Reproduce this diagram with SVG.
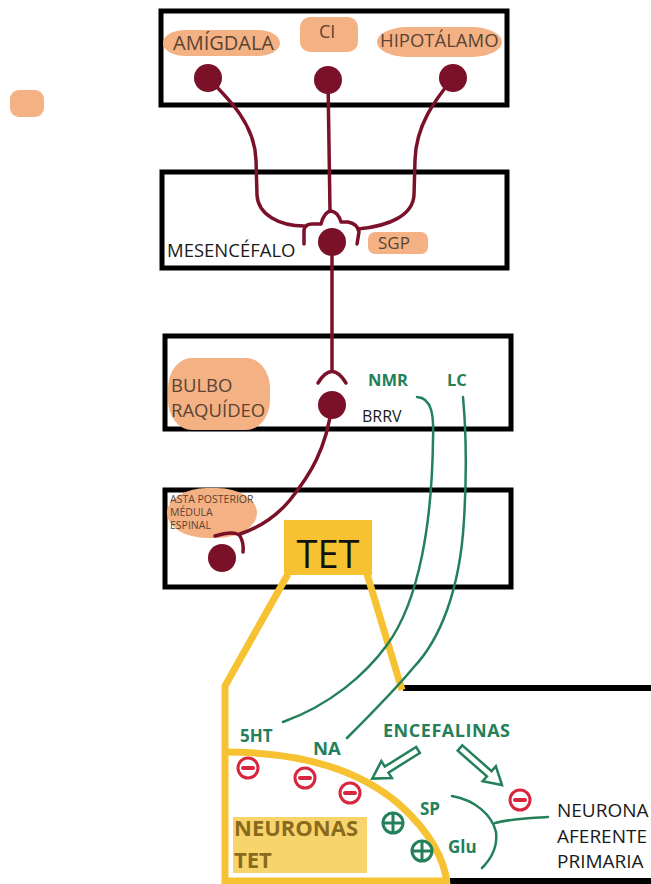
<svg xmlns="http://www.w3.org/2000/svg" width="651" height="884" viewBox="0 0 651 884">
<style>
.box{fill:none;stroke:#000;stroke-width:5}
.peach{fill:#f4b183}
.lbl{font-family:"Open Sans","Liberation Sans",sans-serif;fill:#5a4434}
.blk{font-family:"Open Sans","Liberation Sans",sans-serif;fill:#1a1a1a}
.ax{fill:none;stroke:#7b1128;stroke-width:3.5;stroke-linecap:round;stroke-linejoin:round}
.soma{fill:#7b1128}
.gr{fill:none;stroke:#23805a;stroke-width:2.5;stroke-linecap:round}
.gt{font-family:"Open Sans","Liberation Sans",sans-serif;font-weight:bold;fill:#23805a}
.yl{fill:none;stroke:#f6c232;stroke-width:7;stroke-linejoin:round}
.mc{fill:none;stroke:#d7263d;stroke-width:3}
.pc{fill:none;stroke:#23805a;stroke-width:3}
.harrow{fill:#fff;stroke:#23805a;stroke-width:2.5;stroke-linejoin:miter}
</style>
<defs>
<g id="minus"><circle class="mc" r="10"/><line x1="-5" y1="0" x2="5" y2="0" stroke="#d7263d" stroke-width="4" stroke-linecap="round"/></g>
<g id="plus"><circle class="pc" r="10"/><line x1="-10" y1="0" x2="10" y2="0" stroke="#23805a" stroke-width="3"/><line x1="0" y1="-10" x2="0" y2="10" stroke="#23805a" stroke-width="3"/></g>
</defs>

<rect x="10" y="90" width="34" height="27" rx="9" class="peach"/>

<g id="box-cerebro">
<rect class="box" x="161" y="11" width="346" height="94"/>
<rect class="peach" x="163" y="30" width="117" height="26" rx="22" ry="13"/>
<text class="lbl" x="173" y="50" font-size="20">AMÍGDALA</text>
<rect class="peach" x="300" y="17" width="58" height="35" rx="10"/>
<text class="lbl" x="319" y="38" font-size="18">CI</text>
<rect class="peach" x="377" y="27" width="125" height="30" rx="30" ry="15"/>
<text class="lbl" x="380" y="47" font-size="18.5">HIPOTÁLAMO</text>
<circle class="soma" cx="208" cy="78" r="14"/>
<circle class="soma" cx="328" cy="80" r="14"/>
<circle class="soma" cx="453" cy="78" r="14"/>
</g>

<g id="box-mesencefalo">
<rect class="box" x="162" y="172" width="345" height="96"/>
<text class="blk" x="167" y="257" font-size="18.5">MESENCÉFALO</text>
<rect class="peach" x="368" y="232" width="60" height="22" rx="7"/>
<text class="lbl" x="378" y="249" font-size="17">SGP</text>
<circle class="soma" cx="332" cy="242" r="14"/>
</g>

<g id="box-bulbo">
<rect class="box" x="165" y="336" width="346" height="93"/>
<rect class="peach" x="168" y="358" width="102" height="72" rx="24" ry="30"/>
<text class="lbl" x="171" y="392" font-size="18.5">BULBO</text>
<text class="lbl" x="171" y="417" font-size="18.5">RAQUÍDEO</text>
<circle class="soma" cx="332" cy="405" r="14"/>
<text class="blk" x="362" y="422" font-size="16">BRRV</text>
<text class="gt" x="368" y="386" font-size="16.5">NMR</text>
<text class="gt" x="447" y="386" font-size="16.5">LC</text>
</g>

<g id="box-asta">
<rect class="box" x="165" y="490" width="346" height="97"/>
<rect class="peach" x="167" y="488" width="90" height="50" rx="40" ry="25"/>
<text class="lbl" x="170" y="503" font-size="10.5">ASTA POSTERIOR</text>
<text class="lbl" x="170" y="516" font-size="10.5">MÉDULA</text>
<text class="lbl" x="170" y="529" font-size="10.5">ESPINAL</text>
<circle class="soma" cx="222" cy="558" r="14"/>
</g>

<g id="box-inferior">
<line x1="403" y1="688" x2="651" y2="688" stroke="#000" stroke-width="6"/>
<line x1="450" y1="881" x2="651" y2="881" stroke="#000" stroke-width="6"/>
</g>

<g id="tet">
<path class="yl" d="M288,574 L225,686 L225,884"/>
<path class="yl" d="M367,574 L402,690"/>
<path class="yl" d="M225,752 C300,752 360,770 400,805 C430,832 445,860 447,884"/>
<line class="yl" x1="222" y1="881" x2="450" y2="881"/>
<rect x="284" y="520" width="88" height="55" fill="#f6c232"/>
<text x="328" y="568" font-size="38" text-anchor="middle" font-family="Open Sans, Liberation Sans, sans-serif" fill="#111">TET</text>
</g>

<g id="neuronas-tet">
<rect x="233" y="817" width="134" height="56" fill="#f8d46c"/>
<text x="234" y="836" font-size="22" font-weight="bold" font-family="Open Sans, Liberation Sans, sans-serif" fill="#8a6a1c">NEURONAS</text>
<text x="234" y="868" font-size="22" font-weight="bold" font-family="Open Sans, Liberation Sans, sans-serif" fill="#8a6a1c">TET</text>
</g>

<g id="connectors">
<path class="ax" d="M208,78 C230,100 255,125 256,160 L257,195 C258,215 280,226 304,226"/>
<path class="ax" d="M453,78 C435,100 416,125 415,160 L414,195 C413,215 390,226 358,229"/>
<path class="ax" d="M328,80 L330,211"/>
<path class="ax" d="M304,244 L304,230 Q305,224 312,224 L321,224 Q324,212 331,211 Q338,212 341,222 L348,222 Q358,224 359,232 L357,244"/>
<path class="ax" d="M332,242 L332,371"/>
<path class="ax" d="M318,383 Q332,360 346,383"/>
<path class="ax" d="M332,405 C326,450 310,475 290,500 C275,518 258,528 240,534"/>
<path class="ax" d="M215,536 Q235,530 240,536 Q244,543 243,552"/>
<path class="gr" d="M417,397 C432,398 434,415 433,440 C432,520 420,600 387,645 C365,675 330,705 283,722"/>
<path class="gr" d="M463,397 C466,430 467,470 464,520 C460,590 440,640 413,668 C395,690 370,715 347,738"/>
<path class="gr" d="M452,796 C475,800 492,815 496,832 C498,848 490,860 482,868"/>
<path class="gr" d="M495,823 C515,818 530,818 548,817"/>
<polygon class="harrow" transform="translate(418,750) rotate(148)" points="0,-3.5 37,-3.5 37,-10 54,0 37,10 37,3.5 0,3.5"/>
<polygon class="harrow" transform="translate(460,748) rotate(41.4)" points="0,-3.5 39,-3.5 39,-10 56,0 39,10 39,3.5 0,3.5"/>
</g>

<g id="labels-inferior">
<text class="gt" x="240" y="742" font-size="17">5HT</text>
<text class="gt" x="313" y="755" font-size="18.5">NA</text>
<text class="gt" x="383" y="737" font-size="18" textLength="127">ENCEFALINAS</text>
<text class="gt" x="420" y="815" font-size="17">SP</text>
<text class="gt" x="448" y="853" font-size="17">Glu</text>
<text class="blk" x="557" y="817" font-size="19">NEURONA</text>
<text class="blk" x="557" y="843" font-size="19">AFERENTE</text>
<text class="blk" x="557" y="868" font-size="19">PRIMARIA</text>
<use href="#minus" x="248" y="768"/>
<use href="#minus" x="305" y="778"/>
<use href="#minus" x="350" y="793"/>
<use href="#minus" x="520" y="800"/>
<use href="#plus" x="393" y="823"/>
<use href="#plus" x="422" y="851"/>
</g>
</svg>
